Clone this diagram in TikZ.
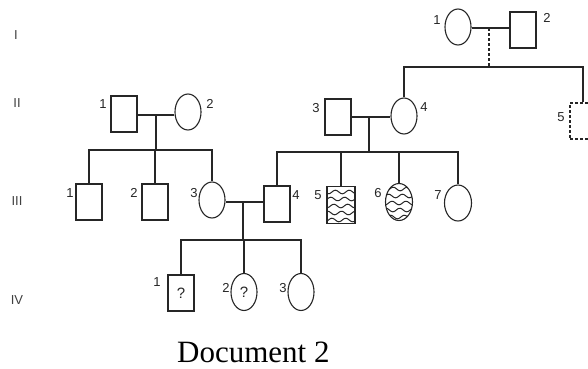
\documentclass[tikz,border=0pt]{standalone}
\usepackage{fontspec}
\setmainfont{Liberation Serif}
\newfontfamily\labfont{Liberation Sans}
\usetikzlibrary{shapes.geometric}
\tikzset{
  ln/.style={line width=1.1pt, black!85},
  male/.style={rectangle, draw=black!85, line width=1.1pt, minimum width=26pt, minimum height=36pt, inner sep=0pt},
  female/.style={ellipse, draw=black!85, line width=1.1pt, minimum width=26pt, minimum height=36pt, inner sep=0pt},
  num/.style={font=\labfont\fontsize{13}{13}\selectfont, inner sep=0pt, text=black!85},
  gen/.style={font=\labfont\fontsize{13}{13}\selectfont, inner sep=0pt, text=black!75},
  qmark/.style={font=\labfont\fontsize{15}{15}\selectfont, text=black!85},
  wave/.style={line width=1pt, black!85}
}
\begin{document}
\begin{tikzpicture}[x=1pt,y=-1pt]
\useasboundingbox (0,0) rectangle (588,368);
\fill[white] (0,0) rectangle (588,368);

% generation numerals
\node[gen] (gI)   at (16,35)  {I};
\node[gen] (gII)  at (17,103) {II};
\node[gen] (gIII) at (17,201) {III};
\node[gen] (gIV)  at (17,300) {IV};

% generation I
\node[female] (a1) at (458,27) {};
\node[male]   (a2) at (523,30) {};
\node[num] at (437,20) {1};
\node[num] at (547,18) {2};
\coordinate (ma) at (489,28);
\coordinate (sa) at (489,67);
\coordinate (sal) at (404,67);
\coordinate (sar) at (583,67);

% generation II
\node[male]   (b1) at (124,114) {};
\node[female] (b2) at (188,112) {};
\node[male]   (b3) at (338,117) {};
\node[female] (b4) at (404,116) {};
\node[male, densely dashed] (b5) at (583,121) {};
\node[num] at (103,104) {1};
\node[num] at (210,104) {2};
\node[num] at (316,108) {3};
\node[num] at (424,107) {4};
\node[num] at (561,117) {5};
\coordinate (mb1) at (156,115);
\coordinate (sb1) at (156,150);
\coordinate (sb1l) at (89,150);
\coordinate (sb1r) at (212,150);
\coordinate (mb2) at (369,117);
\coordinate (sb2) at (369,152);
\coordinate (sb2l) at (277,152);
\coordinate (sb2r) at (458,152);

% generation III
\node[male]   (c1) at (89,202) {};
\node[male]   (c2) at (155,202) {};
\node[female] (c3) at (212,200) {};
\node[male]   (c4) at (277,204) {};
% wavy shading of the affected son
\begin{scope}
  \clip (327,186.5) rectangle (355,223.5);
  \foreach \yy/\ph in {192/0,199/120,206/40,213/200,220/90}
    \draw[wave] plot[domain=0:32, samples=25, smooth] ({325+\x}, {\yy + 1.8*sin(\x*26+\ph)});
\end{scope}
\node[male, minimum width=28pt, minimum height=37pt] (c5) at (341,205) {};
% wavy shading of the affected daughter
\begin{scope}
  \clip (399,202) ellipse (13.5 and 18.5);
  \foreach \yy/\ph in {189/30,196/150,203/60,210/220,217/100}
    \draw[wave] plot[domain=0:30, samples=25, smooth] ({384+\x}, {\yy + 1.8*sin(\x*26+\ph)});
\end{scope}
\node[female, minimum width=27pt, minimum height=37pt] (c6) at (399,202) {};
\node[female, minimum width=27pt] (c7) at (458,203) {};
\node[num] at (70,193) {1};
\node[num] at (134,193) {2};
\node[num] at (194,193) {3};
\node[num] at (296,195) {4};
\node[num] at (318,195) {5};
\node[num] at (378,193) {6};
\node[num] at (438,195) {7};
\coordinate (mc) at (243,202);
\coordinate (sc) at (243,240);
\coordinate (scl) at (181,240);
\coordinate (scr) at (301,240);

% generation IV
\node[male]   (d1) at (181,293) {};
\node[female, minimum height=37pt] (d2) at (244,292) {};
\node[female, minimum height=37pt] (d3) at (301,292) {};
\node[qmark] at (d1) {?};
\node[qmark] at (d2) {?};
\node[num] at (157,282) {1};
\node[num] at (226,288) {2};
\node[num] at (283,288) {3};

% matings and descent lines
\draw[ln] (a1.east |- ma) -- (a2.west |- ma);
\draw[ln, densely dashed] (ma) -- (sa);
\draw[ln] (b4.north) -- (sal) -- (sar) -- (b5.north);

\draw[ln] (b1.east |- mb1) -- (b2.west |- mb1);
\draw[ln] (mb1) -- (sb1);
\draw[ln] (c1.north) -- (sb1l) -- (sb1r) -- (c3.north);
\draw[ln] (c2.north) -- (c2.north |- sb1);

\draw[ln] (b3.east |- mb2) -- (b4.west |- mb2);
\draw[ln] (mb2) -- (sb2);
\draw[ln] (c4.north) -- (sb2l) -- (sb2r) -- (c7.north);
\draw[ln] (c5.north) -- (c5.north |- sb2);
\draw[ln] (c6.north) -- (c6.north |- sb2);

\draw[ln] (c3.east |- mc) -- (c4.west |- mc);
\draw[ln] (mc) -- (sc);
\draw[ln] (d1.north) -- (scl) -- (scr) -- (d3.north);
\draw[ln] (d2.north) -- (d2.north |- sc);

% caption
\node[anchor=base west, inner sep=0pt, font=\fontsize{31}{31}\selectfont] (cap) at (177,362) {Document 2};
\end{tikzpicture}
\end{document}
